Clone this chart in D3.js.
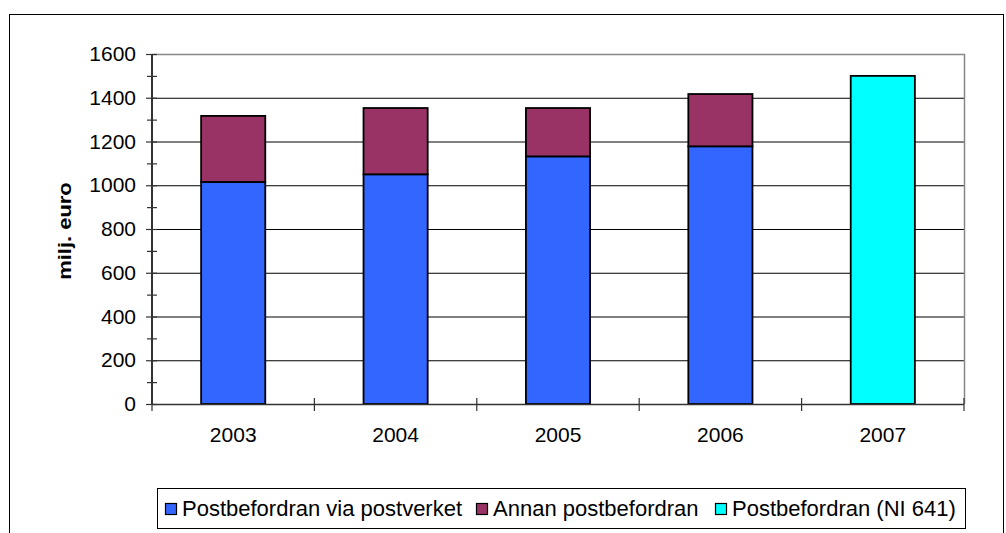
<!DOCTYPE html>
<html><head><meta charset="utf-8">
<script src="https://cdn.jsdelivr.net/npm/d3@7"></script>
<style>body{margin:0;background:#fff;} text{font-family:"Liberation Sans",Arial,sans-serif;}</style>
</head><body>
<svg id="c" width="1006" height="533"></svg>
<script>
const categories = ["2003","2004","2005","2006","2007"];
const postverket = [1015, 1050, 1132, 1178, 0];
const annan = [302, 303, 221, 239, 0];
const ni641 = [0, 0, 0, 0, 1500];
const seriesNames = ["Postbefordran via postverket","Annan postbefordran","Postbefordran (NI 641)"];
const seriesColors = ["#3366FF","#993366","#00FFFF"];
const yTicks = [0,200,400,600,800,1000,1200,1400,1600];

const svg = d3.select("#c");
const L=152, R=964, T=54, B=404;
svg.append("rect").attr("x",9.5).attr("y",14.5).attr("width",994).attr("height",540)
  .attr("fill","none").attr("stroke","#000").attr("stroke-width",1);

const x = d3.scaleBand().domain(categories).range([L,R]).paddingInner(0.605).paddingOuter(0.3025);
const y = d3.scaleLinear().domain([0,1600]).range([B,T]);

// gridlines
svg.append("g").selectAll("line").data(yTicks.filter(d=>d>0&&d<1600)).join("line")
  .attr("x1",L).attr("x2",R).attr("y1",d=>y(d)+0.5).attr("y2",d=>y(d)+0.5)
  .attr("stroke","#000").attr("stroke-width",1);
// plot border top/right grey
svg.append("path").attr("d",`M${L},${T+0.5}H${R+0.5}V${B}`).attr("fill","none").attr("stroke","#888").attr("stroke-width",1.5);

// bars
const data = categories.map((c,i)=>({c, s:[postverket[i], annan[i], ni641[i]]}));
const g = svg.append("g");
data.forEach(d=>{
  let base=0;
  d.s.forEach((v,k)=>{
    if(v<=0) return;
    g.append("rect").attr("x",x(d.c)).attr("width",x.bandwidth())
      .attr("y",y(base+v)).attr("height",y(base)-y(base+v))
      .attr("fill",seriesColors[k]).attr("stroke","#000").attr("stroke-width",1.8);
    base+=v;
  });
});

// y axis
const ya = svg.append("g").attr("transform",`translate(${L},0)`)
  .call(d3.axisLeft(y).tickValues(yTicks).tickFormat(d3.format("d")).tickSize(0).tickPadding(16));
ya.select(".domain").remove();
ya.selectAll("text").attr("font-size","21px").attr("fill","#000").attr("font-family","Liberation Sans, Arial, sans-serif");
svg.append("line").attr("x1",L).attr("x2",L).attr("y1",T).attr("y2",B).attr("stroke","#333").attr("stroke-width",2);
const minor = d3.range(0,1601,100);
svg.append("g").selectAll("line").data(minor).join("line")
  .attr("x1",d=>d%200===0?L-6:L-5).attr("x2",L+5).attr("y1",d=>y(d)+0.5).attr("y2",d=>y(d)+0.5)
  .attr("stroke","#333").attr("stroke-width",1.2);

// x axis
svg.append("line").attr("x1",L).attr("x2",R).attr("y1",B+0.5).attr("y2",B+0.5).attr("stroke","#333").attr("stroke-width",1.5);
const step = (R-L)/categories.length;
svg.append("g").selectAll("line").data(d3.range(categories.length+1)).join("line")
  .attr("x1",i=>L+i*step).attr("x2",i=>L+i*step).attr("y1",B-6).attr("y2",B+7)
  .attr("stroke","#333").attr("stroke-width",1.2);
const xa = svg.append("g").attr("transform",`translate(0,${B})`)
  .call(d3.axisBottom(x).tickSize(0).tickPadding(23));
xa.select(".domain").remove();
xa.selectAll("text").attr("font-size","21px").attr("fill","#000").attr("font-family","Liberation Sans, Arial, sans-serif");

// y label
svg.append("text").attr("transform","translate(71,231) rotate(-90) scale(1.22,1)").attr("text-anchor","middle")
  .attr("font-size","18px").attr("font-weight","bold").text("milj. euro");

// legend
svg.append("rect").attr("x",157.5).attr("y",488.5).attr("width",808).attr("height",40)
  .attr("fill","#fff").attr("stroke","#000").attr("stroke-width",1);
const legX = [165, 476, 715];
seriesNames.forEach((n,k)=>{
  svg.append("rect").attr("x",legX[k]+0.5).attr("y",503.5).attr("width",11).attr("height",11)
    .attr("fill",seriesColors[k]).attr("stroke","#000").attr("stroke-width",1.2);
  svg.append("text").attr("x",legX[k]+17).attr("y",516).attr("font-size","22px").text(n);
});
</script>
</body></html>
